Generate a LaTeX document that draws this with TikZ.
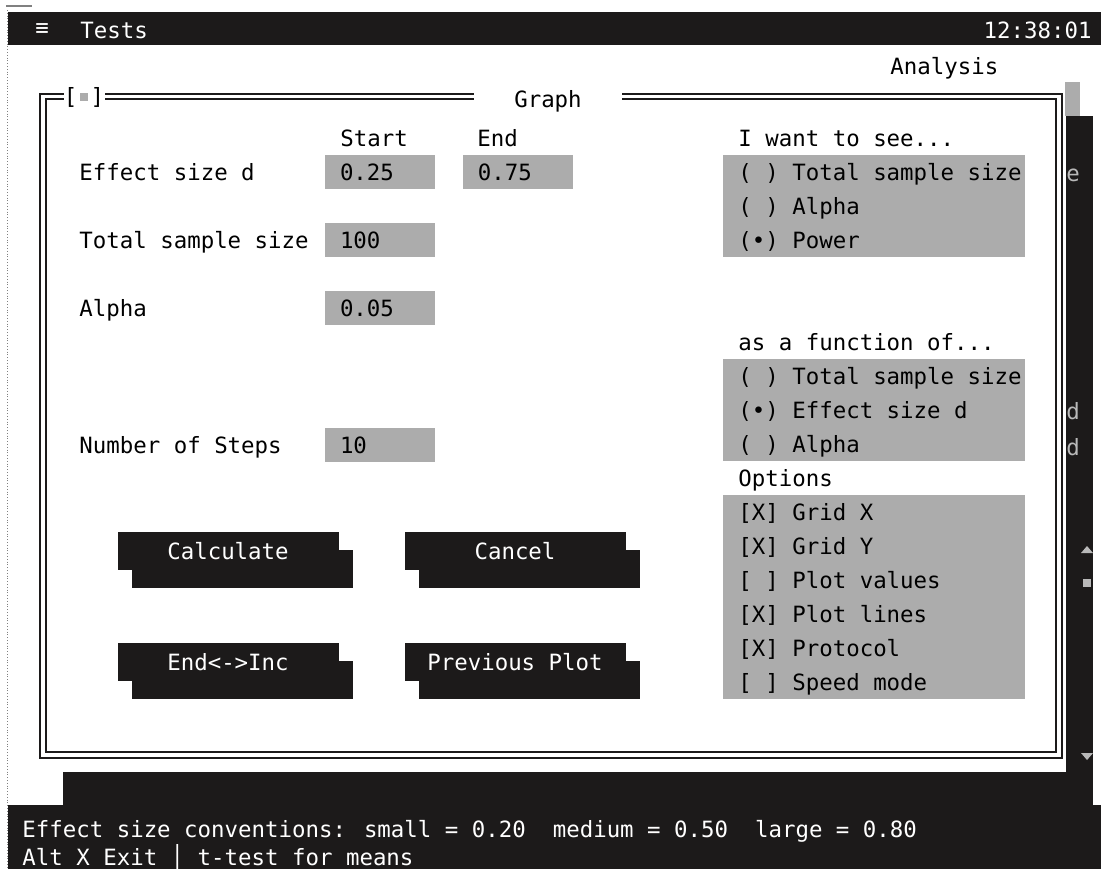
\documentclass[tikz,border=0pt]{standalone}
\usepackage{fontspec}
\newfontfamily\dosfont{DejaVu Sans Mono}
\usepackage{tikz}
\usetikzlibrary{positioning,shadows,calc}
\definecolor{screenblack}{RGB}{28,26,26}
\definecolor{fieldgray}{RGB}{172,172,172}
\definecolor{ghostgray}{RGB}{185,185,185}

\begin{document}
\begin{tikzpicture}[
  x=0.5pt, y=-0.5pt,
  every node/.style={inner sep=0pt, font=\dosfont\fontsize{11.2pt}{17pt}\selectfont},
  lbl/.style={anchor=base west},
  invtxt/.style={anchor=base west, text=white},
  fieldbox/.style={fill=fieldgray, text width=40pt, inner xsep=7.5pt, align=left,
      minimum height=17pt, text height=8.1pt, text depth=0pt},
  optbox/.style={fill=fieldgray, minimum width=151pt, anchor=north west},
  btn/.style={fill=screenblack, text=white, minimum width=110.5pt, minimum height=19pt,
      text height=8.1pt, text depth=0pt,
      drop shadow={shadow xshift=7pt, shadow yshift=-9pt, fill=screenblack, opacity=1}},
  frameline/.style={draw=screenblack, line width=1.1pt}
]
\path[use as bounding box, fill=white] (0,0) rectangle (1101,869);
\draw[densely dotted, gray] (7,10) -- (7,869);
\draw[gray, line width=0.6pt] (6,6) -- (32,6);

% menu bar
\fill[screenblack] (8,12) rectangle (1101,45);
\node[text=white] (menu) at (42,30) {≡};
\node[invtxt] (tests) at (80,38) {Tests};
\node[invtxt, anchor=base east] (clock) at (1092,38) {12:38:01};
\node[lbl] (analysis) at (890,74) {Analysis};

% window behind the dialog
\fill[fieldgray] (1065,82) rectangle (1080,116);
\fill[screenblack] (1066,116) rectangle (1093,805);
\fill[screenblack] (63,772) rectangle (1093,805);
\foreach \c/\y in {e/181, d/419, d/455}
  \node[lbl, text=ghostgray] at (1066,\y) {\c};
\fill[ghostgray] (1081,553) -- (1093,553) -- (1087,546) -- cycle;
\fill[ghostgray] (1083,579) rectangle (1091,587);
\fill[ghostgray] (1081,753) -- (1093,753) -- (1087,760) -- cycle;

% dialog frame
\draw[frameline] (40,94) rectangle (1062,758);
\draw[frameline] (46,99) rectangle (1056,752);
\node[fill=white, inner xsep=20pt, minimum height=12pt] (title) at (548,101) {Graph};
\node[fill=white, minimum width=20.5pt, minimum height=12pt] (closebox) at (84,97) {[ ]};
\fill[fieldgray] ($(closebox.center)+(-4,-4)$) rectangle ++(8,8);

% input fields
\node[lbl] (start) at (340,146) {Start};
\node[lbl] (end) at (477,146) {End};
\node[lbl] (effect) at (79,180) {Effect size d};
\node[fieldbox] (dstart) at (380,172) {0.25};
\node[fieldbox, right=13.5pt of dstart] (dend) {0.75};
\node[lbl] (nlabel) at (79,248) {Total sample size};
\node[fieldbox] (nval) at (380,240) {100};
\node[lbl] (alabel) at (79,316) {Alpha};
\node[fieldbox] (aval) at (380,308) {0.05};
\node[lbl] (slabel) at (79,453) {Number of Steps};
\node[fieldbox] (sval) at (380,445) {10};

% choices
\node[lbl] (see) at (738,146) {I want to see...};
\node[optbox, minimum height=51pt] (seebox) at (723,155) {};
\foreach \t [count=\i from 0] in {( ) Total sample size, ( ) Alpha, (•) Power}
  \node[lbl] at (738,180+34*\i) {\t};

\node[lbl] (func) at (738,350) {as a function of...};
\node[optbox, minimum height=51pt] (funcbox) at (723,359) {};
\foreach \t [count=\i from 0] in {( ) Total sample size, (•) Effect size d, ( ) Alpha}
  \node[lbl] at (738,384+34*\i) {\t};

\node[lbl] (opts) at (738,486) {Options};
\node[optbox, minimum height=102pt] (optsbox) at (723,495) {};
\foreach \t [count=\i from 0] in {{[X] Grid X}, {[X] Grid Y}, {[ ] Plot values},
    {[X] Plot lines}, {[X] Protocol}, {[ ] Speed mode}}
  \node[lbl] at (738,520+34*\i) {\t};

% buttons
\node[btn] (calc) at (228,551) {Calculate};
\node[btn] (cancel) at (515,551) {Cancel};
\node[btn] (swap) at (228,662) {End<->Inc};
\node[btn] (prev) at (515,662) {Previous Plot};

% status line
\fill[screenblack] (8,805) rectangle (1101,869);
\node[invtxt] (conv) at (22,837) {Effect size conventions: small = 0.20\ \ medium = 0.50\ \ large = 0.80};
\node[invtxt] (keys) at (22,865) {Alt X Exit │ t-test for means};
\end{tikzpicture}
\end{document}
